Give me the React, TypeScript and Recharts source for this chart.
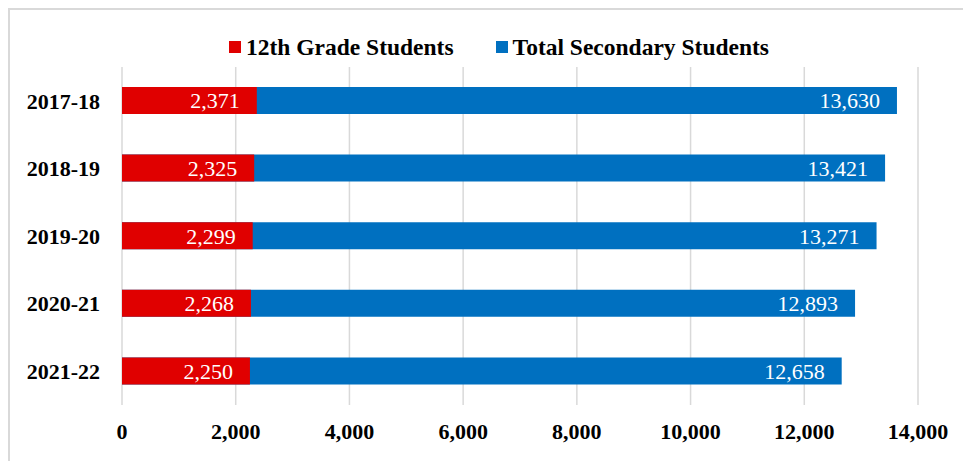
import React from "react";
import { BarChart, Bar, XAxis, YAxis, CartesianGrid, Legend, LabelList } from "recharts";

const years = ["2017-18", "2018-19", "2019-20", "2020-21", "2021-22"];
const grade12 = [2371, 2325, 2299, 2268, 2250];
const totalSecondary = [13630, 13421, 13271, 12893, 12658];
const xTicks = [0, 2000, 4000, 6000, 8000, 10000, 12000, 14000];

const RED = "#E00000";
const BLUE = "#0070C0";
const FONT = '"Liberation Serif", "Times New Roman", serif';

const data = years.map((y, i) => ({ year: y, grade12: grade12[i], total: totalSecondary[i] }));

const fmt = (v: any) => Number(v).toLocaleString("en-US");

const legendItems = [
  { label: "12th Grade Students", color: RED },
  { label: "Total Secondary Students", color: BLUE },
];

const renderLegend = () => (
  <div
    style={{
      display: "flex",
      justifyContent: "center",
      alignItems: "center",
      gap: 42,
      paddingLeft: 35,
      fontFamily: FONT,
      fontWeight: "bold",
      fontSize: 23.5,
      lineHeight: "26px",
      color: "#000",
    }}
  >
    {legendItems.map((it) => (
      <div key={it.label} style={{ display: "flex", alignItems: "center" }}>
        <span style={{ display: "inline-block", width: 12, height: 12, background: it.color, marginRight: 5 }} />
        <span>{it.label}</span>
      </div>
    ))}
  </div>
);

export default function App() {
  return (
    <div style={{ position: "absolute", left: 0, top: 0, width: 963, height: 461, overflow: "hidden", background: "#fff" }}>
      <div
        style={{
          position: "absolute",
          left: 8,
          top: 8,
          width: 1200,
          height: 1200,
          border: "2px solid #d9d9d9",
        }}
      />
      <div style={{ position: "absolute", left: 0, top: 0 }}>
        <BarChart
          width={963}
          height={461}
          data={data}
          layout="vertical"
          margin={{ top: 67, right: 45, bottom: 16, left: 0 }}
          barSize={27}
          barGap={-27}
        >
          <CartesianGrid horizontal={false} stroke="#d9d9d9" strokeWidth={1.5} />
          <XAxis
            type="number"
            domain={[0, 14000]}
            ticks={xTicks}
            interval={0}
            height={40}
            axisLine={false}
            tickLine={false}
            tickSize={0}
            tickMargin={18}
            tickFormatter={fmt}
            tick={{ fontFamily: FONT, fontWeight: "bold", fontSize: 22, fill: "#000" }}
          />
          <YAxis
            type="category"
            dataKey="year"
            width={122}
            axisLine={false}
            tickLine={false}
            tickSize={0}
            tickMargin={22}
            tick={{ fontFamily: FONT, fontWeight: "bold", fontSize: 22, fill: "#000" }}
          />
          <Legend
            verticalAlign="middle"
            layout="horizontal"
            content={renderLegend}
            wrapperStyle={{ top: 34, left: 0, width: 963 }}
          />
          <Bar dataKey="total" name="Total Secondary Students" fill={BLUE} isAnimationActive={false}>
            <LabelList
              dataKey="total"
              position="insideRight"
              offset={17}
              formatter={fmt}
              style={{ fontFamily: FONT, fontSize: 22, fill: "#fff" }}
            />
          </Bar>
          <Bar dataKey="grade12" name="12th Grade Students" fill={RED} isAnimationActive={false}>
            <LabelList
              dataKey="grade12"
              position="insideRight"
              offset={17}
              formatter={fmt}
              style={{ fontFamily: FONT, fontSize: 22, fill: "#fff" }}
            />
          </Bar>
        </BarChart>
      </div>
    </div>
  );
}
